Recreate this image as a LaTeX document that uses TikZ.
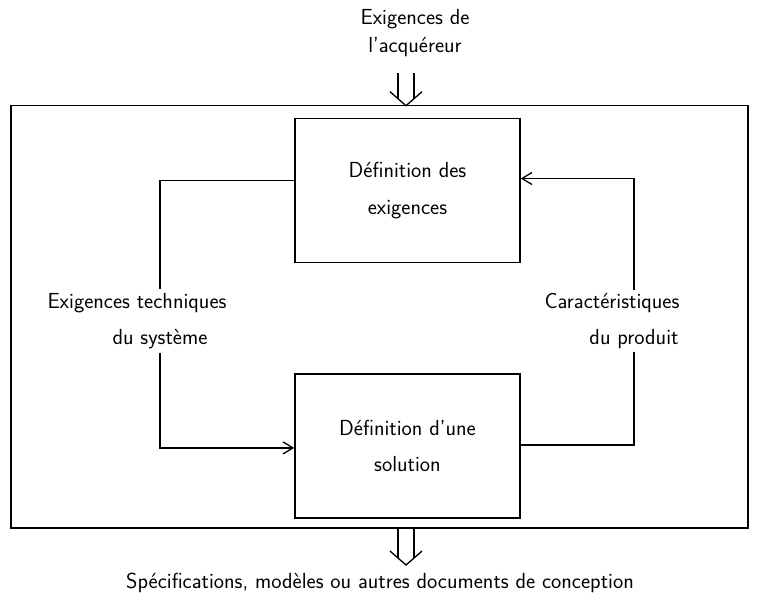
\documentclass[tikz,border=0pt]{standalone}
\usepackage{fontspec}
\usetikzlibrary{arrows.meta, positioning, calc}

% fleche double (entree / sortie du cadre)
\newcommand{\flechedouble}[2]{%
  \draw ([xshift=-0.2cm]#1) -- ([xshift=-0.2cm,yshift=0.175cm]#2);
  \draw ([xshift=0.2cm]#1) -- ([xshift=0.2cm,yshift=0.175cm]#2);
  \draw ([xshift=-0.4cm,yshift=0.35cm]#2) -- (#2) -- ([xshift=0.4cm,yshift=0.35cm]#2);}

\begin{document}
\begin{tikzpicture}[
        x=0.025cm, y=-0.025cm,
        line width=0.95pt,
        font=\sffamily\fontsize{15.5}{26}\selectfont,
        bloc/.style={rectangle, draw, minimum width=5.625cm, minimum height=3.6cm, align=center},
        texte/.style={align=center, inner sep=2pt},
        fleche/.style={-{Straight Barb[length=0.25cm, width=0.3cm]}}
    ]
    \useasboundingbox (0,0) rectangle (760,599);

    % cadre
    \node (cadre) [draw, minimum width=18.425cm, minimum height=10.56cm] at (379.5,316.85) {};

    % blocs
    \node (defexig) [bloc] at (407.5,190.5) {D\'efinition des\\exigences};
    \node (defsol) [bloc, below=2.75cm of defexig] {D\'efinition d'une\\solution};

    % textes
    \node (acq) [texte, font=\sffamily\fontsize{15.5}{19.5}\selectfont] at (415,33) {Exigences de\\l'acqu\'ereur};
    \node (exigtech) [texte] at (160,321) {Exigences techniques\hspace*{1.15cm}\\du syst\`eme};
    \node (caract) [texte] at (634,321) {Caract\'eristiques\hspace*{1.1cm}\\du produit};
    \node (specs) [texte] at (380,583) {Sp\'ecifications, mod\`eles ou autres documents de conception};

    \coordinate (entree) at (406,105.7);
    \coordinate (sortie) at (406,565);

    % liaisons
    \draw ([yshift=0.25cm]defexig.west) -| (exigtech.north);
    \draw [fleche] (exigtech.south) |- ([yshift=-0.05cm]defsol.west);
    \draw ([yshift=0.025cm]defsol.east) -| (caract.south);
    \draw [fleche] (caract.north) |- ([yshift=0.3cm]defexig.east);

    \flechedouble{$(acq.south)+(-9,13)$}{entree}
    \flechedouble{$(entree |- cadre.south)$}{sortie}

\end{tikzpicture}
\end{document}
